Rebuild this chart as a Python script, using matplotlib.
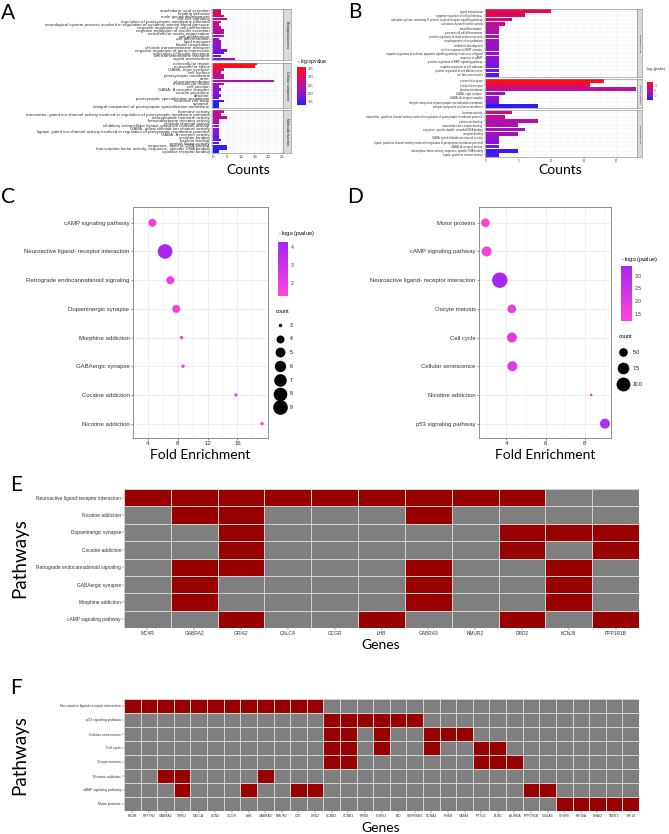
import numpy as np
import matplotlib.pyplot as plt
from matplotlib.colors import LinearSegmentedColormap, ListedColormap, Normalize
from matplotlib.cm import ScalarMappable
from matplotlib.lines import Line2D

plt.rcParams['font.family'] = ['Liberation Sans', 'DejaVu Sans']
plt.rcParams['mathtext.fontset'] = 'custom'
plt.rcParams['mathtext.rm'] = 'Liberation Sans'

# ---------------- data ----------------
# A: GO enrichment (facets)
a_bp_terms = ['arachidonic acid secretion', 'feeding behavior', 'male gonad development',
              'cell-cell signaling', 'regulation of postsynaptic membrane potential',
              'neurological system process involved in regulation of systemic arterial blood pressure',
              'negative regulation of cell proliferation', 'negative regulation of insulin secretion',
              'extracellular matrix organization', 'cell proliferation', 'cell differentiation',
              'lipid transport', 'blood coagulation', 'chloride transmembrane transport',
              'negative regulation of gene expression', 'regulation of insulin secretion',
              'ion transmembrane transport', 'signal transduction']
a_bp_counts = [3, 3, 4, 5, 3, 2, 3, 4, 4, 4, 2, 3, 3, 3, 5, 4, 3, 8]
a_bp_logp = [3.0, 2.9, 2.85, 2.8, 2.7, 2.6, 2.5, 2.4, 2.3, 2.2, 2.1, 2.0, 1.9, 1.85, 1.8, 1.7, 1.6, 2.1]

a_cc_terms = ['extracellular region', 'extracellular space', 'GABA- ergic synapse', 'cell surface',
              'postsynaptic membrane', 'axon', 'plasma membrane', 'extracellular matrix',
              'cell junction', 'GABA- A receptor complex', 'neuron projection', 'dendrite',
              'postsynaptic specialization membrane', 'neuronal cell body', 'synapse',
              'integral component of postsynaptic specialization membrane']
a_cc_counts = [16, 15, 4, 3, 4, 4, 22, 4, 2, 3, 2, 3, 2, 4, 2, 2]
a_cc_logp = [3.6, 3.5, 3.0, 2.8, 2.6, 2.5, 2.3, 2.2, 2.1, 2.0, 1.9, 1.8, 1.6, 1.5, 1.4, 1.3]

a_mf_terms = ['hormone activity',
              'transmitter- gated ion channel activity involved in regulation of postsynaptic membrane potential',
              'neuropeptide hormone activity', 'benzodiazepine receptor activity',
              'chloride channel activity', 'inhibitory extracellular ligand- gated ion channel activity',
              'GABA- gated chloride ion channel activity',
              'ligand- gated ion channel activity involved in regulation of presynaptic membrane potential',
              'GABA- A receptor activity', 'receptor binding', 'heparin binding', 'growth factor activity',
              'sequence- specific DNA binding', 'transcription factor activity, sequence- specific DNA binding',
              'cytokine receptor binding']
a_mf_counts = [4, 3, 5, 2, 2, 2, 2, 2, 2, 2, 3, 2, 5, 5, 2]
a_mf_logp = [2.8, 2.6, 2.4, 2.3, 2.2, 2.1, 2.0, 1.9, 1.8, 1.7, 1.6, 1.5, 1.5, 1.4, 1.3]

# B: GO enrichment (facets)
b_bp_terms = ['signal transduction', 'negative regulation of cell proliferation',
              'adenylate cyclase- activating G- protein coupled receptor signaling pathway',
              'activation of protein kinase activity', 'transdifferentiation',
              'pancreatic A cell differentiation', 'positive regulation of renal sodium excretion',
              'morphogenesis of an epithelium', 'endoderm development', 'cellular response to BMP stimulus',
              'negative regulation of extrinsic apoptotic signaling pathway in absence of ligand',
              'response to cAMP', 'positive regulation of BMP signaling pathway',
              'negative regulation of cell adhesion', 'positive regulation of cell differentiation',
              'cell fate commitment']
b_bp_counts = [10, 6, 4, 3, 2, 2, 2, 2, 2, 2, 2, 2, 2, 2, 2, 2]
b_bp_logp = [4.0, 3.7, 3.4, 3.2, 2.8, 2.7, 2.6, 2.5, 2.4, 2.3, 2.2, 2.1, 2.0, 1.9, 1.8, 1.7]

b_cc_terms = ['extracellular space', 'extracellular region', 'plasma membrane', 'GABA- ergic synapse',
              'GABA- A receptor complex', 'integral component of postsynaptic specialization membrane',
              'integral component of plasma membrane']
b_cc_counts = [18, 16, 23, 3, 2, 2, 8]
b_cc_logp = [4.6, 4.0, 2.9, 2.5, 2.3, 2.0, 1.3]

b_mf_terms = ['hormone activity',
              'transmitter- gated ion channel activity involved in regulation of postsynaptic membrane potential',
              'calcium ion binding', 'macromolecular complex binding',
              'sequence- specific double- stranded DNA binding', 'receptor binding',
              'GABA- gated chloride ion channel activity',
              'ligand- gated ion channel activity involved in regulation of presynaptic membrane potential',
              'GABA- A receptor activity', 'transcription factor activity, sequence- specific DNA binding',
              'ligand- gated ion channel activity']
b_mf_counts = [4, 3, 8, 5, 6, 5, 2, 2, 2, 5, 2]
b_mf_logp = [3.4, 3.1, 2.8, 2.6, 2.5, 2.4, 2.2, 2.0, 1.9, 1.4, 1.6]

# C / D: KEGG bubble plots
c_paths = ['cAMP signaling pathway', 'Neuroactive ligand- receptor interaction',
           'Retrograde endocannabinoid signaling', 'Dopaminergic synapse', 'Morphine addiction',
           'GABAergic synapse', 'Cocaine addiction', 'Nicotine addiction']
c_fold = [4.6, 6.3, 7.0, 7.8, 8.5, 8.7, 15.8, 19.3]
c_count = [4, 9, 4, 4, 3, 3, 3, 3]
c_logp = [1.8, 4.3, 1.9, 1.8, 1.4, 1.4, 1.5, 1.3]

d_paths = ['Motor proteins', 'cAMP signaling pathway', 'Neuroactive ligand- receptor interaction',
           'Oocyte meiosis', 'Cell cycle', 'Cellular senescence', 'Nicotine addiction',
           'p53 signaling pathway']
d_fold = [2.93, 2.99, 3.66, 4.27, 4.28, 4.30, 8.32, 9.02]
d_count = [5, 6, 12, 5, 6, 6, 3, 6]
d_logp = [1.3, 1.4, 3.4, 1.7, 1.9, 2.0, 1.4, 3.1]

# E / F: pathway-gene membership
e_paths = ['Neuroactive ligand-receptor interaction', 'Nicotine addiction', 'Dopaminergic synapse',
           'Cocaine addiction', 'Retrograde endocannabinoid signaling', 'GABAergic synapse',
           'Morphine addiction', 'cAMP signaling pathway']
e_genes = ['MC4R', 'GABRA2', 'GRIA2', 'CALCA', 'GCGR', 'LHB', 'GABRA3', 'NMUR2', 'DRD2', 'KCNJ6', 'PPP1R1B']
e_hits = [[0, 1, 2, 3, 4, 5, 6, 7, 8], [1, 2, 6], [2, 8, 9, 10], [2, 8, 10],
          [1, 2, 6, 9], [1, 6, 9], [1, 6, 9], [2, 5, 8, 10]]

f_paths = ['Neuroactive ligand-receptor interaction', 'p53 signaling pathway', 'Cellular senescence',
           'Cell cycle', 'Oocyte meiosis', 'Nicotine addiction', 'cAMP signaling pathway', 'Motor proteins']
f_genes = ['MC4R', 'NPFFR2', 'GABRA2', 'GRIK2', 'CALCA', 'UCN2', 'GCGR', 'LHB', 'GABRA3', 'NMUR2',
           'OXT', 'DRD2', 'CCNB2', 'CCNB1', 'RRM2', 'CHEK2', 'BID', 'SERPINB5', 'CCNA2', 'RHEB',
           'GATA4', 'PTTG1', 'BUB1', 'AURKA', 'PPP1R1B', 'CNGA3', 'CENPE', 'KIF18A', 'DNAI2', 'TNNT2', 'KIF14']
f_hits = [list(range(0, 12)), [12, 13, 14, 15, 16, 17], [12, 13, 15, 18, 19, 20],
          [12, 13, 15, 18, 21, 22], [12, 13, 21, 22, 23], [2, 3, 8],
          [3, 7, 10, 11, 24, 25], [26, 27, 28, 29, 30]]

# ---------------- figure ----------------
W, H = 669, 834
fig = plt.figure(figsize=(W / 100, H / 100), dpi=100)


def box(x0, y0, x1, y1):
    # pixel box (top-left origin) -> figure fraction
    return [x0 / W, 1 - y1 / H, (x1 - x0) / W, (y1 - y0) / H]


def ftext(x, y, s, **kw):
    fig.text(x / W, 1 - y / H, s, **kw)


big = dict(family=['Lato', 'DejaVu Sans'])
BORDER = '#7F7F7F'
GRID = '#EBEBEB'

go_cmap = LinearSegmentedColormap.from_list(
    'go', ['#1E1EFF', '#8A12D8', '#B8109F', '#DC0862', '#FF1010'])
kegg_cmap = LinearSegmentedColormap.from_list('kegg', ['#FF44DA', '#A828F2'])


def go_panel(x0, x1, top, bottom, gap, facets, xlim, xticks, lab_fs, strip_w, strip_fs, norm):
    nrows = sum(len(f[1]) for f in facets)
    per = (bottom - top - gap * (len(facets) - 1)) / nrows
    y = top
    axes = []
    for name, terms, counts, logp in facets:
        h = per * len(terms)
        ax = fig.add_axes(box(x0, y, x1, y + h))
        pos = np.arange(len(terms))
        ax.barh(pos, counts, height=0.9, color=go_cmap(norm(np.array(logp))), zorder=2)
        ax.set_ylim(len(terms) - 0.5, -0.5)
        ax.set_xlim(*xlim)
        ax.set_yticks(pos)
        ax.set_yticklabels(terms, fontsize=lab_fs, color='#333333')
        ax.set_xticks(xticks)
        ax.set_xticks([t + (xticks[1] - xticks[0]) / 2 for t in xticks[:-1]], minor=True)
        ax.tick_params(axis='both', length=1, width=0.3, pad=0.8, colors='#333333')
        ax.tick_params(axis='x', which='minor', length=0)
        ax.grid(True, which='both', color=GRID, lw=0.3, zorder=0)
        ax.set_axisbelow(True)
        for sp in ax.spines.values():
            sp.set_color(BORDER)
            sp.set_linewidth(0.4)
        sax = fig.add_axes(box(x1, y, x1 + strip_w, y + h))
        sax.set_facecolor('#D9D9D9')
        sax.set_xticks([])
        sax.set_yticks([])
        for sp in sax.spines.values():
            sp.set_color(BORDER)
            sp.set_linewidth(0.4)
        sax.text(0.5, 0.5, name, rotation=-90, ha='center', va='center',
                 fontsize=strip_fs, color='#1A1A1A', transform=sax.transAxes)
        axes.append(ax)
        y += h + gap
    for ax in axes[:-1]:
        ax.tick_params(axis='x', labelbottom=False, length=0)
    axes[-1].tick_params(axis='x', labelsize=lab_fs)
    return axes


facet_names = ['Biological process', 'Cellular component', 'Molecular function']

# --- A ---
norm_a = Normalize(1.3, 3.6)
go_panel(212, 283, 9, 153, 2.3,
         [(facet_names[0], a_bp_terms, a_bp_counts, a_bp_logp),
          (facet_names[1], a_cc_terms, a_cc_counts, a_cc_logp),
          (facet_names[2], a_mf_terms, a_mf_counts, a_mf_logp)],
         (-0.35, 25.2), [0, 5, 10, 15, 20, 25], 3.2, 8, 2.4, norm_a)
cax = fig.add_axes(box(297, 67, 306, 105))
cb = fig.colorbar(ScalarMappable(norm_a, go_cmap), cax=cax, ticks=[1.5, 2.0, 2.5, 3.0, 3.5])
cb.outline.set_visible(False)
cb.ax.tick_params(labelsize=3, length=0, pad=1.5, colors='#333333')
ftext(297, 61, r'- log$_{10}$pvalue', fontsize=3.6, va='center')
ftext(248, 170, 'Counts', fontsize=10, ha='center', va='center', **big)
ftext(8, 13, 'A', fontsize=15, ha='center', va='center', **big)

# --- B ---
norm_b = Normalize(1.2, 4.6)
go_panel(485, 637, 9, 157, 2.0,
         [(facet_names[0], b_bp_terms, b_bp_counts, b_bp_logp),
          (facet_names[1], b_cc_terms, b_cc_counts, b_cc_logp),
          (facet_names[2], b_mf_terms, b_mf_counts, b_mf_logp)],
         (-0.1, 23.1), [0, 5, 10, 15, 20], 2.0, 5, 1.6, norm_b)
cax = fig.add_axes(box(647, 82, 653, 100))
cb = fig.colorbar(ScalarMappable(norm_b, go_cmap), cax=cax, ticks=[2, 3, 4])
cb.outline.set_visible(False)
cb.ax.tick_params(labelsize=2, length=0, pad=1, colors='#333333')
ftext(645, 69, r'- log$_{10}$(pvalue)', fontsize=2.2, va='center')
ftext(560, 170, 'Counts', fontsize=10, ha='center', va='center', **big)
ftext(355, 12, 'B', fontsize=15, ha='center', va='center', **big)


# --- C / D bubble plots ---
def size_px(c, cmin, cmax, rmin, rmax):
    # ggplot-like area scale -> marker radius in pixels
    return rmin + (rmax - rmin) * np.sqrt((np.asarray(c, float) - cmin) / (cmax - cmin))


def bubble_panel(rect, paths, fold, count, logp, xlim, xticks, norm, srange,
                 cbar_rect, cbar_ticks, cbar_title_xy, leg_counts, leg_labels, leg_xy, leg_spacing):
    ax = fig.add_axes(box(*rect))
    pos = np.arange(len(paths))
    r = size_px(count, *srange)
    ax.scatter(fold, pos, s=(1.44 * r) ** 2,
               c=kegg_cmap(norm(np.array(logp))), edgecolors='none', zorder=3)
    ax.set_ylim(len(paths) - 0.5, -0.55)
    ax.set_xlim(*xlim)
    ax.set_yticks(pos)
    ax.set_yticklabels(paths, fontsize=4.5, color='#333333')
    ax.set_xticks(xticks)
    step = xticks[1] - xticks[0]
    ax.set_xticks([t + step / 2 for t in [xticks[0] - step] + xticks], minor=True)
    ax.tick_params(axis='both', length=1.5, width=0.4, pad=1, colors='#333333', labelsize=4.3)
    ax.tick_params(axis='x', which='minor', length=0)
    ax.grid(True, which='major', color=GRID, lw=0.6, zorder=0)
    ax.grid(True, which='minor', axis='x', color=GRID, lw=0.3, zorder=0)
    for sp in ax.spines.values():
        sp.set_color(BORDER)
        sp.set_linewidth(0.6)
    cax = fig.add_axes(box(*cbar_rect))
    cb = fig.colorbar(ScalarMappable(norm, kegg_cmap), cax=cax, ticks=cbar_ticks)
    cb.outline.set_visible(False)
    cb.ax.tick_params(labelsize=3.6, length=0, pad=2, colors='#333333')
    ftext(cbar_title_xy[0], cbar_title_xy[1], r'- log$_{10}$(pvalue)', fontsize=4, va='center')
    lr = size_px(leg_counts, *srange)
    handles = [Line2D([], [], marker='o', ls='', color='black', markeredgewidth=0,
                      markersize=1.44 * rr) for rr in lr]
    fig.legend(handles, leg_labels, title='count', loc='upper left',
               bbox_to_anchor=(leg_xy[0] / W, 1 - leg_xy[1] / H), frameon=False,
               fontsize=3.6, title_fontsize=4, labelspacing=leg_spacing, handletextpad=1.2,
               handlelength=1.5, alignment='left', borderpad=0, borderaxespad=0)
    return ax


norm_c = Normalize(1.3, 4.3)
bubble_panel((133, 207, 268, 438), c_paths, c_fold, c_count, c_logp, (3.9, 20.1), [4, 8, 12, 16],
             norm_c, (3, 9, 1.7, 7.3), (278, 242, 288, 296), [2, 3, 4], (278, 234),
             [3, 4, 5, 6, 7, 8, 9], ['3', '4', '5', '6', '7', '8', '9'], (276, 309), 1.75)
ftext(200, 455, 'Fold Enrichment', fontsize=10, ha='center', va='center', **big)
ftext(8, 197, 'C', fontsize=15, ha='center', va='center', **big)

norm_d = Normalize(1.2, 3.4)
bubble_panel((479, 207, 611, 438), d_paths, d_fold, d_count, d_logp, (2.6, 9.33), [4, 6, 8],
             norm_d, (3, 12, 1.3, 7.7), (621, 266, 632, 321), [1.5, 2.0, 2.5, 3.0], (621, 260),
             [5, 7.5, 10], ['5.0', '7.5', '10.0'], (619, 334), 2.2)
ftext(545, 455, 'Fold Enrichment', fontsize=10, ha='center', va='center', **big)
ftext(355, 197, 'D', fontsize=15, ha='center', va='center', **big)


# --- E / F heatmaps ---
def heat_panel(rect, paths, genes, hits, row_fs, col_fs):
    mat = np.zeros((len(paths), len(genes)))
    for i, cols in enumerate(hits):
        mat[i, cols] = 1
    ax = fig.add_axes(box(*rect))
    ax.pcolormesh(np.arange(len(genes) + 1) - 0.5, np.arange(len(paths) + 1) - 0.5, mat,
                  cmap=ListedColormap(['#7F7F7F', '#990000']), vmin=0, vmax=1,
                  edgecolors='#D0D0D0', linewidth=0.6)
    ax.set_xlim(-0.5, len(genes) - 0.5)
    ax.set_ylim(len(paths) - 0.5, -0.5)
    ax.set_xticks(range(len(genes)))
    ax.set_xticklabels(genes, fontsize=col_fs, color='#333333')
    ax.set_yticks(range(len(paths)))
    ax.set_yticklabels(paths, fontsize=row_fs, color='#333333')
    ax.tick_params(axis='both', length=1.2, width=0.3, pad=1, colors='#333333')
    for sp in ax.spines.values():
        sp.set_visible(False)
    return ax


heat_panel((124, 489, 639, 628), e_paths, e_genes, e_hits, 3.5, 3.5)
ftext(381, 645, 'Genes', fontsize=10, ha='center', va='center', **big)
ftext(20, 558, 'Pathways', fontsize=13.5, ha='center', va='center', rotation=90, **big)
ftext(16, 485, 'E', fontsize=15, ha='center', va='center', **big)

heat_panel((124, 699, 639, 811), f_paths, f_genes, f_hits, 2.5, 2.4)
ftext(381, 828, 'Genes', fontsize=10, ha='center', va='center', **big)
ftext(20, 755, 'Pathways', fontsize=13.5, ha='center', va='center', rotation=90, **big)
ftext(16, 688, 'F', fontsize=15, ha='center', va='center', **big)

fig.savefig('out.png', dpi=100, facecolor='white')
